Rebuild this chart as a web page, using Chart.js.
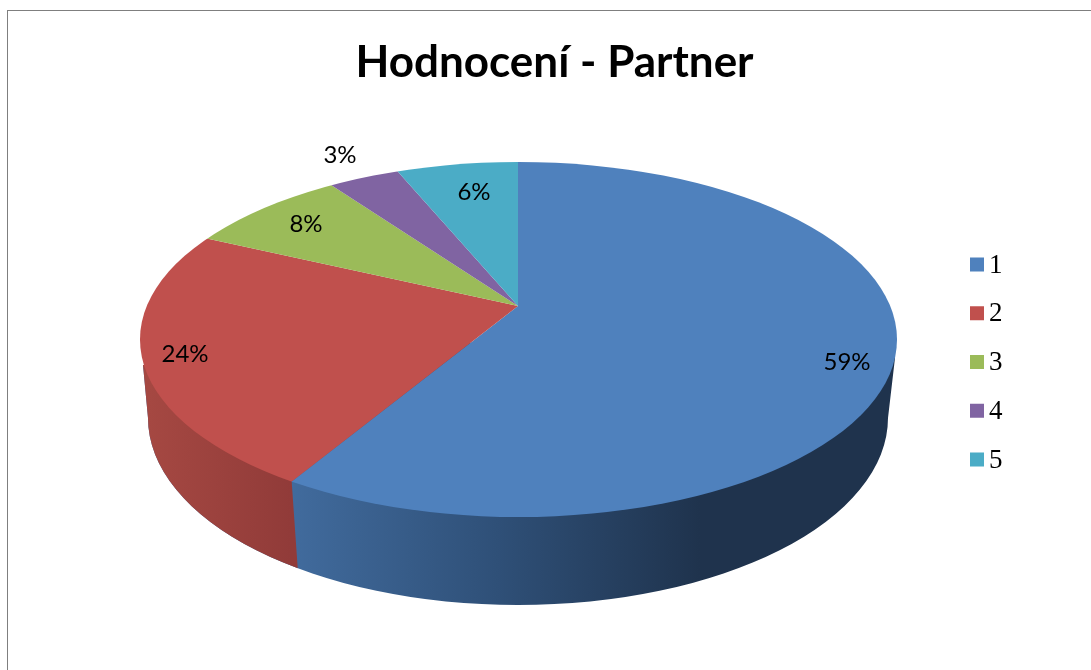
<!DOCTYPE html>
<html>
<head>
<meta charset="utf-8">
<script src="https://cdn.jsdelivr.net/npm/chart.js@4"></script>
<style>
html,body{margin:0;padding:0;background:#fff;overflow:hidden;width:1091px;height:670px}
#frame{position:absolute;left:7px;top:10px;width:1200px;height:800px;border-left:1px solid #7f7f7f;border-top:1px solid #7f7f7f;box-sizing:border-box}
#c{position:absolute;left:8px;top:11px}
</style>
</head>
<body>
<div id="frame"></div>
<canvas id="c" width="1093" height="659"></canvas>
<script>
const titleText = "Hodnocení - Partner";
const categories = ["1", "2", "3", "4", "5"];
const values = [59, 24, 7.5, 3.4, 6.1];
const percentLabels = ["59%", "24%", "8%", "3%", "6%"];
const sliceColors = ["#4f81bd", "#c0504d", "#9bbb59", "#8064a2", "#4bacc6"];

const OX = 8, OY = 11;                         // canvas offset in the page
const apex = {x: 518 - OX, y: 306 - OY};       // where the slices meet on screen
const tilt = {s: 0.467, k: -0.04};             // how the flat circle is laid over
const top3d = {x: 518.5 - OX, y: 339.5 - OY, rx: 378.5, ry: 177.5};
const bot3d = {x: 518 - OX, y: 418 - OY, rx: 370, ry: 187};
const labelSpots = [[847, 362], [185, 354], [306, 224], [340, 155], [474, 192]];
const legendPad = 23.75, legendFont = 25, legendTextFont = 27, legendBox = 14;
const legendLeft = 970 - OX - legendPad, legendShift = 21.5;

function rimPoint(a) {
  // point where a slice boundary at library angle a meets the top ellipse
  const dx = Math.cos(a), dy = tilt.k * Math.cos(a) + tilt.s * Math.sin(a);
  const px = apex.x - top3d.x, py = apex.y - top3d.y;
  const A = dx*dx/(top3d.rx*top3d.rx) + dy*dy/(top3d.ry*top3d.ry);
  const B = 2*(px*dx/(top3d.rx*top3d.rx) + py*dy/(top3d.ry*top3d.ry));
  const C = px*px/(top3d.rx*top3d.rx) + py*py/(top3d.ry*top3d.ry) - 1;
  const t = (-B + Math.sqrt(B*B - 4*A*C)) / (2*A);
  return {x: apex.x + t*dx, y: apex.y + t*dy};
}

const pie3d = {
  id: 'pie3d',
  afterLayout(chart) {
    const lg = chart.legend;
    const w = lg.width;
    lg.left = legendLeft; lg.right = legendLeft + w;
    lg.top += legendShift; lg.bottom += legendShift;
  },
  beforeDatasetsDraw(chart) {
    const ctx = chart.ctx;
    const arcs = chart.getDatasetMeta(0).data;
    // side wall, split where the first slice ends
    const p = rimPoint(arcs[0].endAngle);
    const q = {x: p.x + 6, y: p.y + 86};
    const wall = () => {
      ctx.beginPath();
      ctx.ellipse(bot3d.x, bot3d.y, bot3d.rx, bot3d.ry, 0, 0, Math.PI);
      ctx.lineTo(top3d.x - top3d.rx + 3, 365 - OY);
      ctx.lineTo(top3d.x, top3d.y);
      ctx.lineTo(top3d.x + top3d.rx - 2, 358 - OY);
      ctx.closePath();
    };
    const gb = ctx.createLinearGradient(p.x, 0, 700 - OX, 0);
    gb.addColorStop(0, '#416b9d'); gb.addColorStop(0.5, '#2f5078'); gb.addColorStop(1, '#1f334d');
    const gr = ctx.createLinearGradient(148 - OX, 0, p.x, 0);
    gr.addColorStop(0, '#a54842'); gr.addColorStop(1, '#913b39');
    ctx.save();
    wall(); ctx.clip();
    ctx.fillStyle = gb; ctx.fillRect(0, 0, chart.width, chart.height);
    ctx.beginPath();
    ctx.moveTo(0, 0); ctx.lineTo(p.x, 0);
    ctx.lineTo(p.x, p.y); ctx.lineTo(q.x, q.y); ctx.lineTo(q.x + 2, chart.height); ctx.lineTo(0, chart.height);
    ctx.closePath();
    ctx.fillStyle = gr; ctx.fill();
    ctx.restore();
    // the flat pie from the library, laid over and trimmed to the top ellipse
    ctx.save();
    ctx.beginPath();
    ctx.ellipse(top3d.x, top3d.y, top3d.rx, top3d.ry, 0, 0, Math.PI*2);
    ctx.clip();
    ctx.transform(1, tilt.k, 0, tilt.s, apex.x, apex.y);
    ctx.translate(-arcs[0].x, -arcs[0].y);
  },
  afterDatasetsDraw(chart) {
    const ctx = chart.ctx;
    ctx.restore();
    ctx.save();
    ctx.fillStyle = '#000';
    ctx.font = '24px Lato';
    ctx.textAlign = 'center';
    ctx.textBaseline = 'middle';
    percentLabels.forEach((t, i) => ctx.fillText(t, labelSpots[i][0] - OX, labelSpots[i][1] - OY));
    ctx.restore();
  },
  afterDraw(chart) {
    // legend text sits closer to its swatch than the library's fixed gap
    const lg = chart.legend, ctx = chart.ctx;
    const start = ((lg.top + legendPad) + (lg.bottom - lg.columnSizes[0].height)) / 2;
    ctx.save();
    ctx.fillStyle = '#000';
    ctx.font = legendTextFont + 'px "Liberation Serif"';
    ctx.textAlign = 'left';
    ctx.textBaseline = 'middle';
    categories.forEach((t, i) => ctx.fillText(t, lg.left + legendPad + legendBox + 5,
      start + i * (legendFont + legendPad) + legendFont / 2 + 1));
    ctx.restore();
  }
};

new Chart(document.getElementById('c'), {
  type: 'pie',
  data: {
    labels: categories,
    datasets: [{data: values, backgroundColor: sliceColors, borderWidth: 0, clip: false, radius: 700}]
  },
  plugins: [pie3d],
  options: {
    responsive: false,
    animation: false,
    plugins: {
      tooltip: {enabled: false},
      title: {
        display: true, text: titleText, color: '#000',
        font: {family: 'Lato', weight: 'bold', size: 44},
        padding: {top: 25, bottom: 20}
      },
      legend: {
        position: 'right',
        labels: {
          boxWidth: legendBox, boxHeight: legendBox, padding: legendPad, color: '#000',
          font: {family: '"Liberation Serif"', size: legendFont},
          generateLabels(chart) {
            return Chart.controllers.pie.overrides.plugins.legend.labels.generateLabels(chart)
              .map(item => Object.assign(item, {text: ''}));
          }
        }
      }
    }
  }
});
</script>
</body>
</html>
